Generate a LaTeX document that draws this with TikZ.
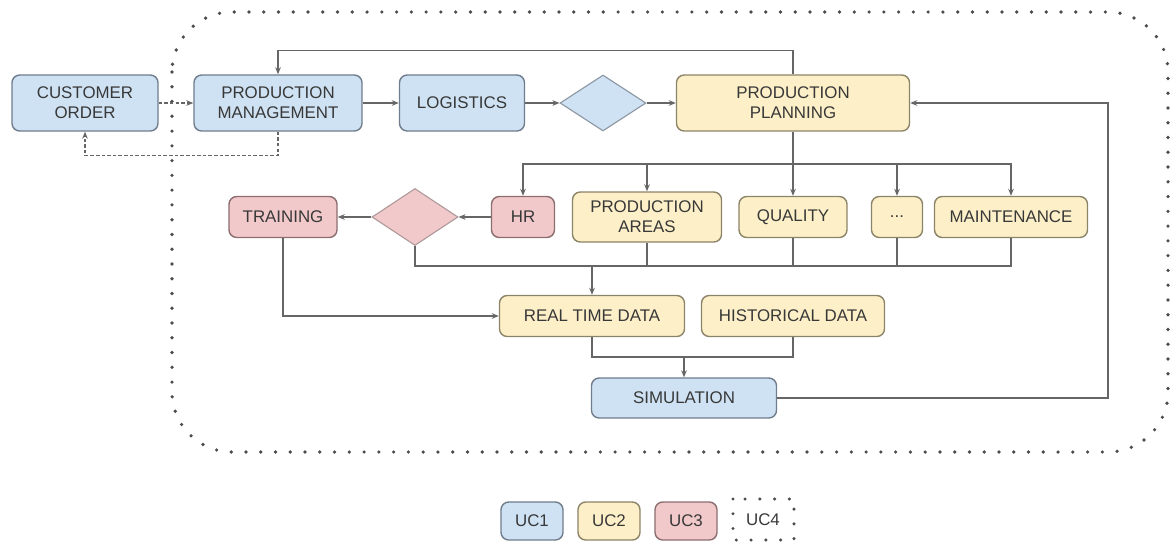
\documentclass[tikz,border=0pt]{standalone}
\usepackage{fontspec}
\setmainfont{Liberation Sans}
\usetikzlibrary{shapes.geometric,arrows.meta}
\definecolor{ucblue}{HTML}{CFE2F3}
\definecolor{ucyellow}{HTML}{FDF0C8}
\definecolor{ucpink}{HTML}{F2C9CB}
\definecolor{blueline}{HTML}{6F7D8C}
\definecolor{yellowline}{HTML}{8C8468}
\definecolor{pinkline}{HTML}{8C6E70}
\definecolor{wire}{HTML}{666666}
\definecolor{txt}{HTML}{383838}
\begin{document}
\begin{tikzpicture}[x=0.025cm, y=-0.025cm,
    box/.style={rectangle, rounded corners=5.5pt, line width=1pt, align=center,
        inner sep=0pt, text=txt, font=\fontsize{12}{14}\selectfont},
    bluebox/.style={box, fill=ucblue, draw=blueline},
    yellowbox/.style={box, fill=ucyellow, draw=yellowline},
    pinkbox/.style={box, fill=ucpink, draw=pinkline},
    choice/.style={diamond, inner sep=0pt, line width=0.8pt},
    wireline/.style={draw=wire, line width=0.9pt},
    arrow/.style={wireline, -{Stealth[length=5pt,width=4pt]}},
    dashedarrow/.style={arrow, dash pattern=on 2.5pt off 1.5pt},
    dotline/.style={draw=black!70, line width=2.6pt, line cap=round, dash pattern=on 0pt off 10.5pt}]
    \useasboundingbox (0,0) rectangle (1171,542);

    \draw[dotline, rounded corners=1.5cm] (172,12) rectangle (1168,452);

    \node[bluebox, minimum width=3.65cm, minimum height=1.4cm] (order) at (85,103) {CUSTOMER\\ORDER};
    \node[bluebox, minimum width=4.2cm, minimum height=1.4cm] (mgmt) at (278,103) {PRODUCTION\\MANAGEMENT};
    \node[bluebox, minimum width=3.125cm, minimum height=1.4cm] (logistics) at (462,103) {LOGISTICS};
    \node[choice, fill=ucblue, draw=blueline!80, minimum width=2.15cm, minimum height=1.4cm] (bluechoice) at (603,103) {};
    \node[yellowbox, minimum width=5.825cm, minimum height=1.4cm] (planning) at (793,103) {PRODUCTION\\PLANNING};

    \node[pinkbox, minimum width=2.7cm, minimum height=1.025cm] (training) at (283,217) {TRAINING};
    \node[choice, fill=ucpink, draw=pinkline!70, minimum width=2.15cm, minimum height=1.425cm] (pinkchoice) at (415,217) {};
    \node[pinkbox, minimum width=1.575cm, minimum height=1.025cm] (hr) at (523,217) {HR};
    \node[yellowbox, minimum width=3.725cm, minimum height=1.25cm] (areas) at (647,217) {PRODUCTION\\AREAS};
    \node[yellowbox, minimum width=2.7cm, minimum height=1.025cm] (quality) at (793,217) {QUALITY};
    \node[yellowbox, minimum width=1.275cm, minimum height=1.025cm] (etc) at (897,217) {...};
    \node[yellowbox, minimum width=3.825cm, minimum height=1.025cm] (maint) at (1011,217) {MAINTENANCE};

    \node[yellowbox, minimum width=4.625cm, minimum height=1.025cm] (realtime) at (592,316) {REAL TIME DATA};
    \node[yellowbox, minimum width=4.575cm, minimum height=1.025cm] (history) at (793,316) {HISTORICAL DATA};
    \node[bluebox, minimum width=4.625cm, minimum height=1cm] (sim) at (684,398) {SIMULATION};

    \draw[dashedarrow] (order) -- (mgmt);
    \draw[dashedarrow] (mgmt.south) -- ++(0,24) -| (order.south);
    \draw[arrow] (mgmt) -- (logistics);
    \draw[arrow] (logistics) -- (bluechoice);
    \draw[arrow] (bluechoice) -- (planning);
    \draw[arrow] (planning.north) -- ++(0,-24) -| (mgmt.north);

    \coordinate (simturn) at (1108,398);
    \draw[arrow] (sim.east) -- (simturn) |- (planning.east);

    \coordinate (split) at (793,164);
    \draw[wireline] (planning.south) -- (split);
    \foreach \dest in {hr, areas, quality, etc, maint}
        \draw[arrow] (split) -| (\dest.north);

    \draw[arrow] (hr) -- (pinkchoice);
    \draw[arrow] (pinkchoice) -- (training);

    \coordinate (join) at (592,266);
    \foreach \src in {pinkchoice, areas, quality, etc, maint}
        \draw[wireline] (\src.south) |- (join);
    \draw[arrow] (join) -- (realtime.north);
    \draw[arrow] (training.south) |- (realtime.west);

    \coordinate (merge) at (684,357);
    \draw[wireline] (realtime.south) |- (merge);
    \draw[wireline] (history.south) |- (merge);
    \draw[arrow] (merge) -- (sim.north);

    \node[bluebox, minimum width=1.55cm, minimum height=0.95cm] (uc1) at (532,521) {UC1};
    \node[yellowbox, minimum width=1.55cm, minimum height=0.95cm] (uc2) at (609,521) {UC2};
    \node[pinkbox, minimum width=1.55cm, minimum height=0.95cm] (uc3) at (686,521) {UC3};
    \node[box, minimum width=1.55cm, minimum height=0.95cm] (uc4) at (763,520) {UC4};
    \draw[dotline, line width=2.4pt] (733,499) rectangle (794,540);
\end{tikzpicture}
\end{document}
